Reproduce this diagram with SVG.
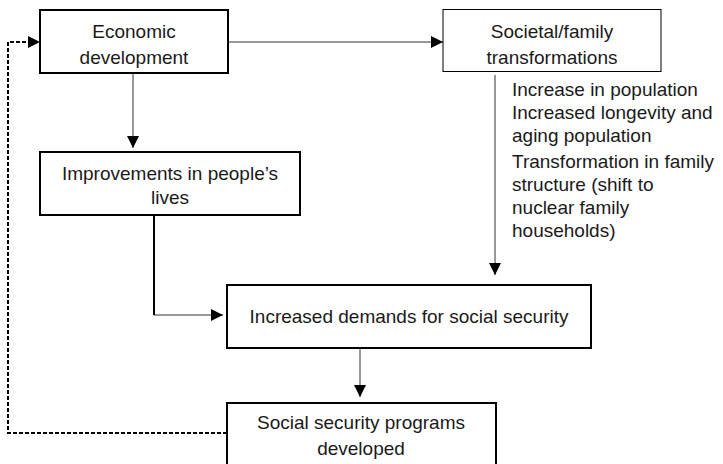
<svg xmlns="http://www.w3.org/2000/svg" width="723" height="464" viewBox="0 0 723 464">
<style>
.box{fill:#fff;stroke:#000;stroke-width:2}
.thin{stroke-width:1}
.t{font-family:"Liberation Sans",Arial,sans-serif;font-size:19px;fill:#1a1a1a}
.c{text-anchor:middle}
.ln{fill:none;stroke:#333;stroke-width:1}
.dash{fill:none;stroke:#000;stroke-width:2;stroke-dasharray:4 2}
</style>
<defs>
<marker id="ah" markerUnits="userSpaceOnUse" markerWidth="12" markerHeight="12" viewBox="0 0 10 10" refX="10" refY="5" orient="auto">
<path d="M0,0 L10,5 L0,10 z" fill="#000"/>
</marker>
</defs>
<rect width="723" height="464" fill="#fff"/>
<g id="connectors">
<line class="ln" x1="228" y1="42" x2="443" y2="42" marker-end="url(#ah)"/>
<line class="ln" x1="133" y1="73" x2="133" y2="148" marker-end="url(#ah)"/>
<line class="ln" x1="495" y1="75" x2="495" y2="275" marker-end="url(#ah)"/>
<path class="ln" d="M154 215 V315 H223" marker-end="url(#ah)"/>
<line x1="154" y1="215" x2="154" y2="315" stroke="#000" stroke-width="2"/>
<line class="ln" x1="360" y1="348" x2="360" y2="397" marker-end="url(#ah)"/>
<path class="dash" d="M227 433 H8 V42 H40" marker-end="url(#ah)"/>
</g>
<g id="economic">
<rect class="box" x="40" y="10" width="188" height="63"/>
<text class="t c" x="134" y="38">Economic</text>
<text class="t c" x="134" y="64">development</text>
</g>
<g id="societal">
<rect class="box thin" x="443" y="9.5" width="218" height="62"/>
<text class="t c" x="552" y="38">Societal/family</text>
<text class="t c" x="552" y="64">transformations</text>
</g>
<g id="factors">
<text class="t" x="512" y="96">Increase in population</text>
<text class="t" x="512" y="119">Increased longevity and</text>
<text class="t" x="512" y="142">aging population</text>
<text class="t" x="512" y="168">Transformation in family</text>
<text class="t" x="512" y="191">structure (shift to</text>
<text class="t" x="512" y="214">nuclear family</text>
<text class="t" x="512" y="237">households)</text>
</g>
<g id="improvements">
<rect class="box" x="40" y="152" width="260" height="63"/>
<text class="t c" x="170" y="180">Improvements in people’s</text>
<text class="t c" x="170" y="204">lives</text>
</g>
<g id="demands">
<rect class="box" x="227" y="285" width="364" height="63"/>
<text class="t c" x="409" y="323">Increased demands for social security</text>
</g>
<g id="programs">
<rect class="box" x="227" y="403" width="269" height="62"/>
<text class="t c" x="361" y="429">Social security programs</text>
<text class="t c" x="361" y="455">developed</text>
</g>
</svg>
